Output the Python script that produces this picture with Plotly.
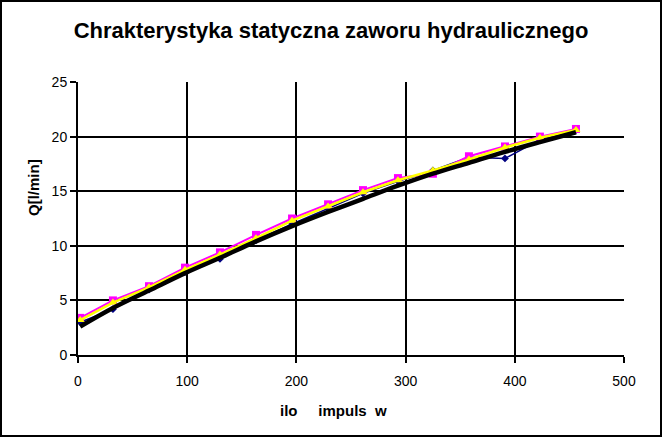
import plotly.graph_objects as go

# impulse counts (x) and flow readings Q [l/min] for each run
impulses = [2, 32, 65, 98, 130, 163, 196, 229, 261, 293, 325, 358, 391, 423, 456]
q_blue = [3.0, 4.2, 6.0, 7.6, 8.8, 10.5, 12.0, 13.4, 14.8, 15.9, 16.9, 18.1, 18.0, 19.7, 20.6]
q_magenta = [3.4, 5.0, 6.3, 8.0, 9.4, 11.0, 12.5, 13.8, 15.1, 16.2, 16.6, 18.2, 19.1, 20.0, 20.7]
q_yellow = [3.2, 4.8, 6.2, 7.8, 9.2, 10.7, 12.3, 13.6, 14.9, 16.0, 16.9, 17.9, 19.0, 19.9, 20.6]
q_black = [2.6, 4.3, 5.9, 7.5, 8.9, 10.4, 11.8, 13.1, 14.3, 15.5, 16.6, 17.6, 18.6, 19.5, 20.4]

x_ticks = [0, 100, 200, 300, 400, 500]
y_ticks = [0, 5, 10, 15, 20, 25]

fig = go.Figure()

fig.add_trace(go.Scatter(
    x=impulses, y=q_blue, mode="lines+markers",
    line=dict(color="#000080", width=1.5),
    marker=dict(symbol="diamond", size=6, color="#000080")))

fig.add_trace(go.Scatter(
    x=impulses, y=q_magenta, mode="lines+markers",
    line=dict(color="#ff00ff", width=2),
    marker=dict(symbol="square", size=8, color="#ff00ff")))

fig.add_trace(go.Scatter(
    x=impulses, y=q_yellow, mode="lines+markers",
    line=dict(color="#ffff00", width=2.5),
    marker=dict(symbol="triangle-up", size=8, color="#ffff00")))

fig.add_trace(go.Scatter(
    x=impulses, y=q_black, mode="lines",
    line=dict(color="black", width=4.5, shape="spline")))

L, R, T, B = 78, 38, 82, 82
pw, ph = 662 - L - R, 437 - T - B

sp = "&nbsp;"
fig.update_layout(
    width=662, height=437,
    margin=dict(l=L, r=R, t=T, b=B),
    paper_bgcolor="white", plot_bgcolor="white",
    showlegend=False,
    font=dict(family="Liberation Sans, Arial", size=14, color="black"),
    title=dict(text="<b>Chrakterystyka statyczna zaworu hydraulicznego</b>",
               x=0.5, xanchor="center", y=0.93, yanchor="middle",
               font=dict(size=22)),
    shapes=[dict(type="rect", xref="paper", yref="paper",
                 x0=-(L - 1) / pw, x1=1 + (R - 1) / pw,
                 y0=-(B - 1) / ph, y1=1 + (T - 1) / ph,
                 line=dict(color="black", width=2))],
    annotations=[
        dict(text="<b>ilo" + sp * 5 + "impuls" + sp * 2 + "w</b>",
             xref="paper", yref="paper", x=(333 - L) / pw, y=(355 - 410) / ph,
             xanchor="center", yanchor="middle", showarrow=False,
             font=dict(size=15)),
        dict(text="<b>Q[l/min]</b>", textangle=-90,
             xref="paper", yref="paper", x=(33 - L) / pw, y=(355 - 188) / ph,
             xanchor="center", yanchor="middle", showarrow=False,
             font=dict(size=15)),
    ],
)

fig.update_xaxes(
    range=[0, 500], tickvals=x_ticks,
    showgrid=True, gridcolor="black", gridwidth=2,
    showline=True, linecolor="black", linewidth=2,
    ticks="outside", ticklen=6, tickwidth=2, tickcolor="black",
    ticklabelstandoff=6,
    zeroline=False)

fig.update_yaxes(
    range=[0, 25], tickvals=y_ticks,
    showgrid=True, gridcolor="black", gridwidth=2,
    showline=True, linecolor="black", linewidth=2,
    ticks="outside", ticklen=6, tickwidth=2, tickcolor="black",
    zeroline=False)

fig.write_html("out.html", config={"displayModeBar": False},
               post_script="document.body.style.margin='0';")
